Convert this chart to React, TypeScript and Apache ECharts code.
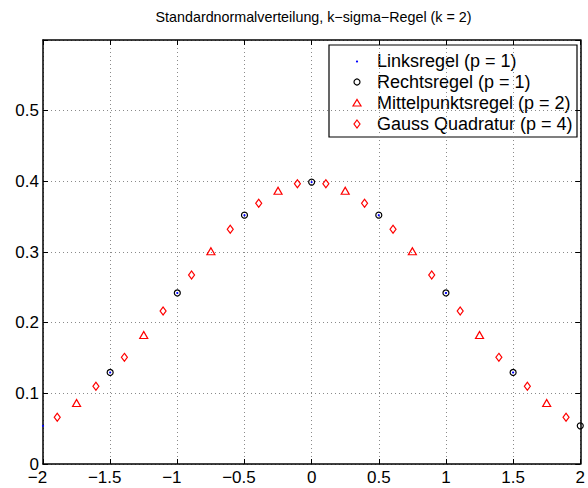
import React, { useEffect, useRef } from 'react';
import * as echarts from 'echarts';

const titleText = 'Standardnormalverteilung, k\u2212sigma\u2212Regel (k = 2)';
const seriesNames = ['Linksregel (p = 1)', 'Rechtsregel (p = 1)', 'Mittelpunktsregel (p = 2)', 'Gauss Quadratur (p = 4)'];

const xTickValues = [-2, -1.5, -1, -0.5, 0, 0.5, 1, 1.5, 2];
const xTickLabels = ['\u22122', '\u22121.5', '\u22121', '\u22120.5', '0', '0.5', '1', '1.5', '2'];
const yTickValues = [0, 0.1, 0.2, 0.3, 0.4, 0.5, 0.6];
const yTickLabels = ['0', '0.1', '0.2', '0.3', '0.4', '0.5', ''];

const xLinks = [-2, -1.5, -1, -0.5, 0, 0.5, 1, 1.5];
const yLinks = [0.054, 0.1295, 0.242, 0.3521, 0.3989, 0.3521, 0.242, 0.1295];

const xRechts = [-1.5, -1, -0.5, 0, 0.5, 1, 1.5, 2];
const yRechts = [0.1295, 0.242, 0.3521, 0.3989, 0.3521, 0.242, 0.1295, 0.054];

const xMittel = [-1.75, -1.25, -0.75, -0.25, 0.25, 0.75, 1.25, 1.75];
const yMittel = [0.0863, 0.1826, 0.3011, 0.3867, 0.3867, 0.3011, 0.1826, 0.0863];

const xGauss = [-1.894, -1.606, -1.394, -1.106, -0.894, -0.606, -0.394, -0.106, 0.106, 0.394, 0.606, 0.894, 1.106, 1.394, 1.606, 1.894];
const yGauss = [0.0663, 0.1099, 0.1509, 0.2165, 0.2675, 0.3321, 0.3691, 0.3967, 0.3967, 0.3691, 0.3321, 0.2675, 0.2165, 0.1509, 0.1099, 0.0663];

const FONT = "'Liberation Sans', Arial, Helvetica, sans-serif";

function pairs(xs: number[], ys: number[]) {
  return xs.map((x, i) => [x, ys[i]]);
}

export default function App() {
  const ref = useRef<HTMLDivElement>(null);
  useEffect(() => {
    const chart = echarts.init(ref.current!, null, { renderer: 'svg' });
    const gridStyle = { show: true, lineStyle: { color: '#8a8a8a', width: 1, type: [1, 3] as any } };
    const axisLine = { show: true, onZero: false, lineStyle: { color: '#000', width: 1.5 } };
    const tick = { show: true, inside: true, length: 5, lineStyle: { color: '#000', width: 1 } };
    const xLabel = (v: number) => {
      const i = xTickValues.findIndex((t) => Math.abs(t - v) < 1e-9);
      const s = i >= 0 ? xTickLabels[i] : '';
      return v < 0 ? '{n|' + s + '}' : '{p|' + s + '}';
    };
    const yLabel = (v: number) => {
      const i = yTickValues.findIndex((t) => Math.abs(t - v) < 1e-9);
      return i >= 0 ? yTickLabels[i] : '';
    };
    const hollow = (c: string) => ({ color: 'rgba(0,0,0,0)', borderColor: c, borderWidth: 1.2, opacity: 1 });
    const option: any = {
      animation: false,
      backgroundColor: '#fff',
      textStyle: { fontFamily: FONT },
      grid: { left: 43, right: 5, top: 40, bottom: 24, containLabel: false },
      xAxis: [
        {
          type: 'value', min: -2, max: 2, interval: 0.5, position: 'bottom',
          axisLine, axisTick: tick, splitLine: gridStyle,
          axisLabel: {
            margin: 7.5, color: '#000', fontSize: 17, lineHeight: 12, fontFamily: FONT, formatter: xLabel,
            rich: {
              n: { fontSize: 17, lineHeight: 12, fontFamily: FONT, color: '#000', padding: [0, 11, 0, 0] },
              p: { fontSize: 17, lineHeight: 12, fontFamily: FONT, color: '#000' },
            },
          },
        },
        {
          type: 'value', min: -2, max: 2, interval: 0.5, position: 'top',
          axisLine, axisTick: tick, splitLine: { show: false }, axisLabel: { show: false },
        },
      ],
      yAxis: [
        {
          type: 'value', min: 0, max: 0.6, interval: 0.1, position: 'left',
          axisLine, axisTick: tick, splitLine: gridStyle,
          axisLabel: { margin: 4, color: '#000', fontSize: 17, lineHeight: 12, fontFamily: FONT, formatter: yLabel },
        },
        {
          type: 'value', min: 0, max: 0.6, interval: 0.1, position: 'right',
          axisLine, axisTick: tick, splitLine: { show: false }, axisLabel: { show: false },
        },
      ],
      series: [
        {
          name: seriesNames[0], type: 'scatter', clip: false, symbol: 'circle', symbolSize: 2.2,
          itemStyle: { color: '#0000ff', opacity: 1 }, data: pairs(xLinks, yLinks), z: 5,
        },
        {
          name: seriesNames[1], type: 'scatter', clip: false, symbol: 'circle', symbolSize: 6,
          itemStyle: hollow('#000'), data: pairs(xRechts, yRechts), z: 4,
        },
        {
          name: seriesNames[2], type: 'scatter', clip: false, symbol: 'triangle', symbolSize: [8, 7],
          itemStyle: hollow('#ff0000'), data: pairs(xMittel, yMittel), z: 4,
        },
        {
          name: seriesNames[3], type: 'scatter', clip: false, symbol: 'diamond', symbolSize: [6, 8],
          itemStyle: hollow('#ff0000'), data: pairs(xGauss, yGauss), z: 4,
        },
      ],
      graphic: [
        {
          type: 'text', x: 313.5, y: 17, z: 10,
          style: { text: titleText, align: 'center', verticalAlign: 'middle', fontSize: 14.3, fontFamily: FONT, fill: '#000' },
        },
        {
          type: 'group', z: 20,
          children: [
            { type: 'rect', shape: { x: 329, y: 45, width: 248, height: 92 }, style: { fill: '#fff', stroke: '#000', lineWidth: 1.2 } },
            { type: 'circle', shape: { cx: 357, cy: 61.5, r: 1.1 }, style: { fill: '#0000ff' } },
            { type: 'circle', shape: { cx: 357, cy: 82, r: 3 }, style: { fill: 'none', stroke: '#000', lineWidth: 1.2 } },
            { type: 'polygon', shape: { points: [[353, 106], [361, 106], [357, 99.5]] }, style: { fill: 'none', stroke: '#ff0000', lineWidth: 1.2 } },
            { type: 'polygon', shape: { points: [[357, 120], [360, 124], [357, 128], [354, 124]] }, style: { fill: 'none', stroke: '#ff0000', lineWidth: 1.2 } },
            { type: 'text', x: 377, y: 61, style: { text: seriesNames[0], verticalAlign: 'middle', fontSize: 18, fontFamily: FONT, fill: '#000' } },
            { type: 'text', x: 377, y: 82, style: { text: seriesNames[1], verticalAlign: 'middle', fontSize: 18, fontFamily: FONT, fill: '#000' } },
            { type: 'text', x: 377, y: 103, style: { text: seriesNames[2], verticalAlign: 'middle', fontSize: 18, fontFamily: FONT, fill: '#000' } },
            { type: 'text', x: 377, y: 124, style: { text: seriesNames[3], verticalAlign: 'middle', fontSize: 18, fontFamily: FONT, fill: '#000' } },
          ],
        },
      ],
    };
    chart.setOption(option);
    return () => chart.dispose();
  }, []);
  return <div ref={ref} style={{ position: 'fixed', left: 0, top: 0, width: 588, height: 488 }} />;
}
